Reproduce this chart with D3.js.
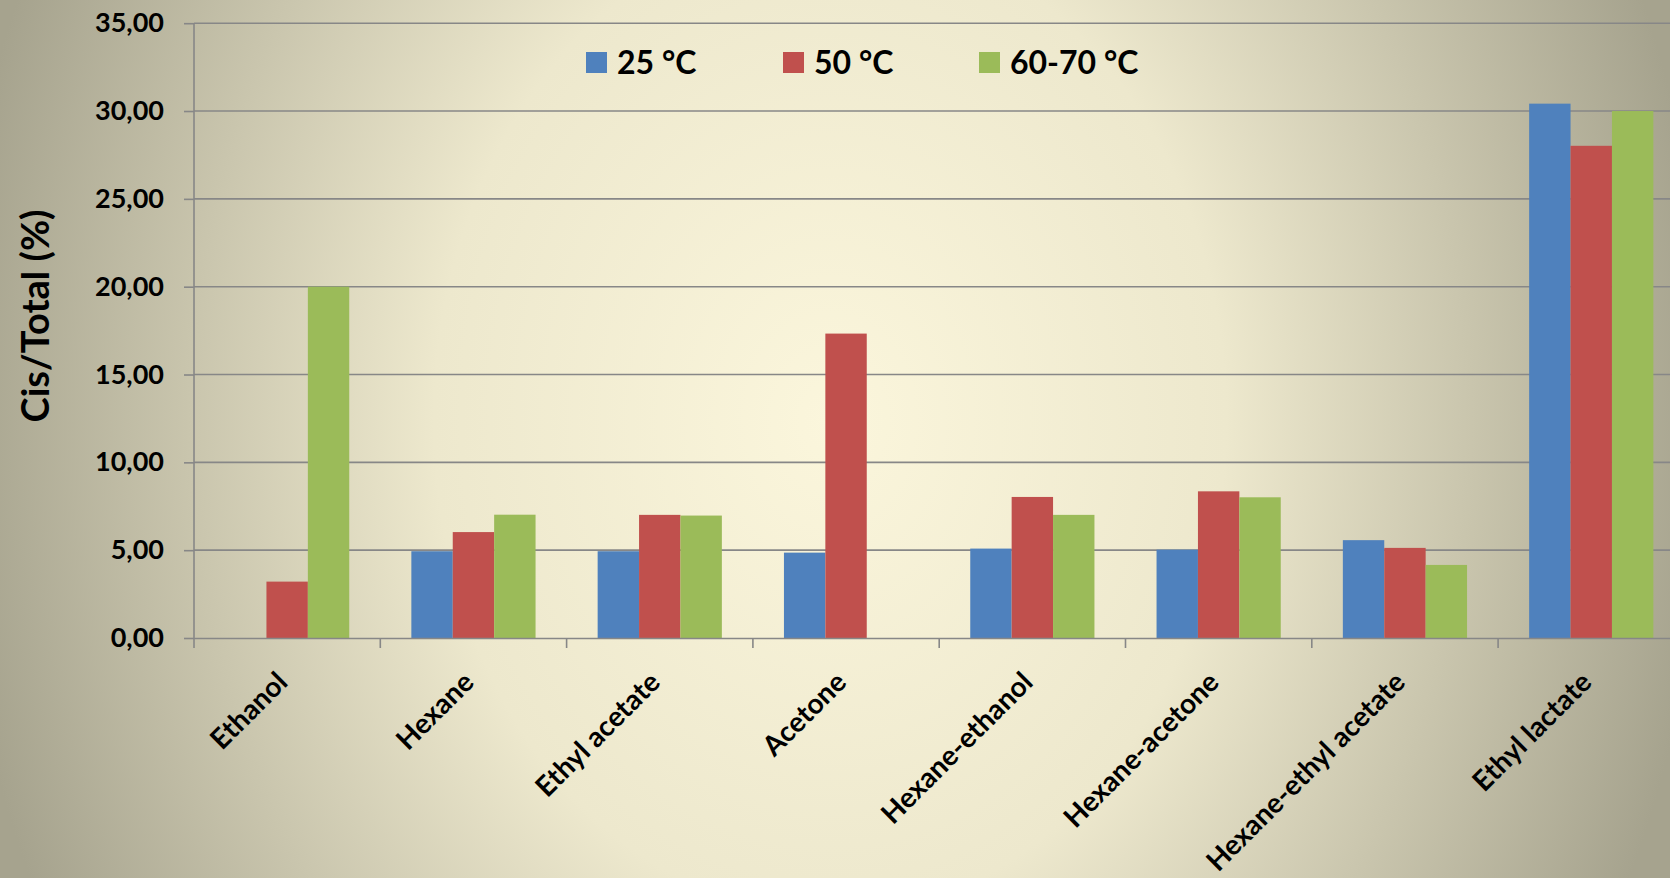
<!DOCTYPE html>
<html>
<head>
<meta charset="utf-8">
<script src="https://cdn.jsdelivr.net/npm/d3@7"></script>
<style>
  html, body { margin: 0; padding: 0; overflow: hidden; }
  svg { display: block; font-family: Lato, "Open Sans", sans-serif; }
</style>
</head>
<body>
<svg id="chart" width="1670" height="878"></svg>
<script>
// Solvent systems on the category axis
const categories = [
  "Ethanol", "Hexane", "Ethyl acetate", "Acetone",
  "Hexane-ethanol", "Hexane-acetone", "Hexane-ethyl acetate", "Ethyl lactate"
];
// Extraction temperatures (one bar per temperature in each group)
const seriesNames = ["25 °C", "50 °C", "60-70 °C"];
const seriesColors = ["#4F81BD", "#C0504D", "#9BBB59"];
// Cis/Total ratio (%) per solvent; null = not measured
const values25 = [null, 4.94, 4.94, 4.86, 5.09, 5.03, 5.57, 30.42];
const values50 = [3.21, 6.03, 7.01, 17.33, 8.03, 8.35, 5.13, 28.02];
const values6070 = [20.00, 7.02, 6.97, null, 7.01, 8.01, 4.16, 30.00];
// Value axis ticks
const yTicks = [0, 5, 10, 15, 20, 25, 30, 35];
const yTitle = "Cis/Total (%)";

const seriesValues = [values25, values50, values6070];

const W = 1670, H = 878;
const svg = d3.select("#chart");

// ---- background: soft cream glow fading to grey-olive edges ----
const defs = svg.append("defs");
const grad = defs.append("radialGradient")
  .attr("id", "bg")
  .attr("gradientUnits", "userSpaceOnUse")
  .attr("cx", 830).attr("cy", 420).attr("r", 880)
  .attr("gradientTransform", "translate(830,420) scale(1,1.25) translate(-830,-420)");
grad.append("stop").attr("offset", 0).attr("stop-color", "#fbf6dc");
grad.append("stop").attr("offset", 0.45).attr("stop-color", "#ede8cd");
grad.append("stop").attr("offset", 1).attr("stop-color", "#a6a38e");
svg.append("rect").attr("width", W).attr("height", H).attr("fill", "url(#bg)");

// ---- scales ----
const plotLeft = 194, plotTop = 23.2, plotBottom = 638;
const catWidth = 186.3;
const x = d3.scaleBand()
  .domain(categories)
  .range([plotLeft, plotLeft + catWidth * categories.length])
  .padding(0);
const xs = d3.scaleBand()
  .domain(seriesNames)
  .range([0, x.bandwidth()])
  .paddingInner(0)
  .paddingOuter(0.75);
const y = d3.scaleLinear().domain([0, 35]).range([plotBottom, plotTop]);

const gridColor = "#878787";
const fmt = v => d3.format(".2f")(v).replace(".", ",");

// ---- horizontal gridlines + value axis ----
const yAxis = d3.axisLeft(y)
  .tickValues(yTicks)
  .tickSize(10)
  .tickPadding(20)
  .tickFormat(fmt);
const gy = svg.append("g")
  .attr("transform", `translate(${plotLeft},0)`)
  .call(yAxis);
gy.select(".domain").remove();
gy.selectAll(".tick line").attr("stroke", gridColor).attr("stroke-width", 1.6);
gy.selectAll(".tick text")
  .attr("fill", "#000")
  .attr("font-size", 27)
  .attr("font-weight", 700)
  .attr("font-family", "Lato, sans-serif");

svg.append("g").selectAll("line")
  .data(yTicks.filter(t => t > 0))
  .join("line")
  .attr("x1", plotLeft).attr("x2", W)
  .attr("y1", d => y(d)).attr("y2", d => y(d))
  .attr("stroke", gridColor).attr("stroke-width", 1.6);

// ---- bars ----
const rows = categories.map((c, i) => ({
  cat: c,
  vals: seriesNames.map((s, k) => ({ s, k, v: seriesValues[k][i] }))
}));
const groups = svg.append("g").selectAll("g")
  .data(rows)
  .join("g")
  .attr("transform", d => `translate(${x(d.cat)},0)`);
groups.selectAll("rect")
  .data(d => d.vals.filter(e => e.v != null))
  .join("rect")
  .attr("x", e => xs(e.s))
  .attr("width", xs.bandwidth())
  .attr("y", e => y(e.v))
  .attr("height", e => y(0) - y(e.v))
  .attr("fill", e => seriesColors[e.k]);

// ---- axis lines ----
svg.append("line")
  .attr("x1", plotLeft).attr("x2", plotLeft)
  .attr("y1", plotTop).attr("y2", plotBottom + 1)
  .attr("stroke", gridColor).attr("stroke-width", 1.6);

const xAxis = d3.axisBottom(x).tickSize(0).tickFormat("");
const gx = svg.append("g")
  .attr("transform", `translate(0,${plotBottom})`)
  .call(xAxis);
gx.select(".domain").attr("stroke", gridColor).attr("stroke-width", 1.6);
gx.selectAll(".tick").remove();

// category boundary ticks
svg.append("g").selectAll("line")
  .data(categories)
  .join("line")
  .attr("x1", d => x(d)).attr("x2", d => x(d))
  .attr("y1", plotBottom).attr("y2", plotBottom + 10)
  .attr("stroke", gridColor).attr("stroke-width", 1.6);

// rotated category labels
svg.append("g").selectAll("text")
  .data(categories)
  .join("text")
  .attr("transform", d => `translate(${x(d) + x.bandwidth() / 2 + 2},${plotBottom + 46}) rotate(-45)`)
  .attr("text-anchor", "end")
  .attr("font-size", 28)
  .attr("font-weight", 700)
  .attr("fill", "#000")
  .text(d => d);

// ---- value axis title ----
svg.append("text")
  .attr("transform", `translate(49,${(207 + 425) / 2}) rotate(-90)`)
  .attr("text-anchor", "middle")
  .attr("font-size", 38)
  .attr("font-weight", 700)
  .attr("fill", "#000")
  .text(yTitle);

// ---- legend ----
const legendX = [586, 783, 979];
const legend = svg.append("g").selectAll("g")
  .data(seriesNames)
  .join("g")
  .attr("transform", (d, i) => `translate(${legendX[i]},52)`);
legend.append("rect")
  .attr("width", 21).attr("height", 21)
  .attr("fill", (d, i) => seriesColors[i]);
legend.append("text")
  .attr("x", 31).attr("y", 22)
  .attr("font-size", 32)
  .attr("font-weight", 700)
  .attr("fill", "#000")
  .text(d => d);
</script>
</body>
</html>
